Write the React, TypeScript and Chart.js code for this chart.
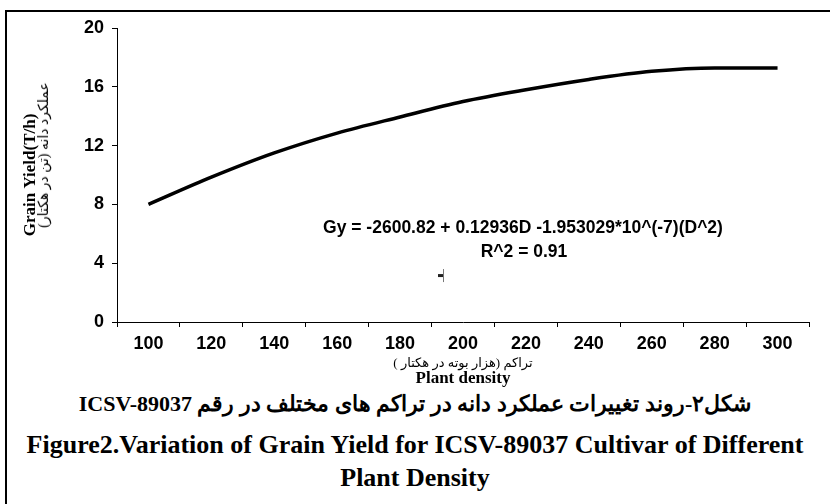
import React, { useEffect, useRef } from "react";
import { Chart, registerables } from "chart.js";

Chart.register(...registerables);

const densities = ["100", "120", "140", "160", "180", "200", "220", "240", "260", "280", "300"];
const grainYield = [8.0, 9.85, 11.5, 12.85, 13.95, 15.0, 15.8, 16.5, 17.05, 17.28, 17.28];
const strayX = [193];
const strayY = [3.16];
const yTicks = { min: 0, max: 20, step: 4 };

const yTitle = "Grain Yield(T/h)";
const yTitleFa = "عملکرد دانه (تن در هکتار)";
const xTitle = "Plant density";
const xTitleFa = "تراکم (هزار بوته در هکتار )";
const equation = "Gy = -2600.82 + 0.12936D -1.953029*10^(-7)(D^2)";
const rSquared = "R^2 = 0.91";
const captionFa = "شکل۲-روند تغییرات عملکرد دانه در تراکم های مختلف در رقم ICSV-89037";
const captionEn1 = "Figure2.Variation of Grain Yield for ICSV-89037 Cultivar of Different";
const captionEn2 = "Plant Density";

function makeMarker(): HTMLCanvasElement {
  const c = document.createElement("canvas");
  c.width = 12;
  c.height = 15;
  const g = c.getContext("2d")!;
  g.strokeStyle = "#777";
  g.lineWidth = 1;
  g.beginPath();
  g.moveTo(8.5, 1);
  g.lineTo(8.5, 14);
  g.stroke();
  g.strokeStyle = "#222";
  g.lineWidth = 3;
  g.beginPath();
  g.moveTo(3, 7.5);
  g.lineTo(8, 7.5);
  g.stroke();
  return c;
}

export default function App() {
  const ref = useRef<HTMLCanvasElement>(null);

  useEffect(() => {
    document.body.style.margin = "0";
    const ctx = ref.current!.getContext("2d")!;
    const chart = new Chart(ctx, {
      type: "line",
      data: {
        labels: densities,
        datasets: [
          {
            data: grainYield,
            borderColor: "#000",
            borderWidth: 3.5,
            pointRadius: 0,
            cubicInterpolationMode: "monotone",
            fill: false,
          },
          {
            type: "scatter",
            xAxisID: "x2",
            data: strayX.map((x, i) => ({ x, y: strayY[i] })),
            pointStyle: makeMarker(),
            pointRadius: 6,
            showLine: false,
          } as any,
        ],
      },
      options: {
        animation: false,
        responsive: false,
        maintainAspectRatio: false,
        layout: { padding: { top: 28, right: 21, left: 0, bottom: 0 } },
        plugins: { legend: { display: false }, tooltip: { enabled: false } },
        scales: {
          x: {
            type: "category",
            offset: true,
            afterFit: (s: any) => {
              s.height = 68;
            },
            grid: {
              display: true,
              drawOnChartArea: false,
              offset: true,
              tickLength: 5,
              color: "#000",
            },
            border: { color: "#000", width: 1 },
            ticks: {
              color: "#000",
              padding: 6,
              maxRotation: 0,
              font: { family: "'Liberation Sans', Arial", size: 18, weight: "bold" },
            },
            title: {
              display: true,
              text: xTitle,
              color: "#000",
              padding: { top: 0, bottom: 1 },
              font: { family: "'Liberation Serif', 'Times New Roman'", size: 17, weight: "bold" },
            },
          },
          x2: {
            type: "linear",
            display: false,
            min: 90,
            max: 310,
          },
          y: {
            min: yTicks.min,
            max: yTicks.max,
            afterFit: (s: any) => {
              s.width = 117;
            },
            grid: { display: true, drawOnChartArea: false, tickLength: 5, color: "#000" },
            border: { color: "#000", width: 1 },
            ticks: {
              stepSize: yTicks.step,
              color: "#000",
              padding: 8,
              font: { family: "'Liberation Sans', Arial", size: 18, weight: "bold" },
            },
            title: {
              display: true,
              text: yTitle,
              color: "#000",
              padding: { top: 20, bottom: 0 },
              font: { family: "'Liberation Serif', 'Times New Roman'", size: 17, weight: "bold" },
            },
          },
        },
      },
    });
    return () => chart.destroy();
  }, []);

  const abs: React.CSSProperties = { position: "absolute", whiteSpace: "nowrap", color: "#000" };

  return (
    <div style={{ position: "fixed", left: 0, top: 0, width: 830, height: 504, background: "#fff", overflow: "hidden" }}>
      <div
        style={{
          position: "absolute",
          left: 5,
          top: 10,
          width: 840,
          height: 520,
          borderLeft: "2px solid #000",
          borderTop: "2px solid #000",
        }}
      />
      <canvas ref={ref} width={830} height={390} style={{ position: "absolute", left: 0, top: 0 }} />
      <div
        style={{
          ...abs,
          left: 44,
          top: 155,
          transform: "translate(-50%, -50%) rotate(-90deg)",
          fontFamily: "'Liberation Serif', 'DejaVu Sans', serif",
          fontSize: 14,
          lineHeight: "16px",
        }}
        dir="rtl"
      >
        {yTitleFa}
      </div>
      <div
        style={{
          ...abs,
          left: 463,
          top: 362,
          transform: "translate(-50%, -50%)",
          fontFamily: "'Liberation Serif', 'DejaVu Sans', serif",
          fontSize: 13,
          lineHeight: "15px",
        }}
        dir="rtl"
      >
        {xTitleFa}
      </div>
      <div
        style={{
          ...abs,
          left: 523,
          top: 227,
          transform: "translate(-50%, -50%)",
          fontFamily: "'Liberation Sans', Arial",
          fontWeight: "bold",
          fontSize: 17.5,
          lineHeight: "20px",
        }}
      >
        {equation}
      </div>
      <div
        style={{
          ...abs,
          left: 524,
          top: 251,
          transform: "translate(-50%, -50%)",
          fontFamily: "'Liberation Sans', Arial",
          fontWeight: "bold",
          fontSize: 17.5,
          lineHeight: "20px",
        }}
      >
        {rSquared}
      </div>
      <div
        style={{
          ...abs,
          left: 415,
          top: 404,
          transform: "translate(-50%, -50%)",
          fontFamily: "'Liberation Serif', 'DejaVu Serif', serif",
          fontWeight: "bold",
          fontSize: 22,
          lineHeight: "26px",
        }}
        dir="rtl"
      >
        {captionFa}
      </div>
      <div
        style={{
          ...abs,
          left: 415,
          top: 445,
          transform: "translate(-50%, -50%)",
          fontFamily: "'Liberation Serif', 'Times New Roman', serif",
          fontWeight: "bold",
          fontSize: 26,
          lineHeight: "30px",
        }}
      >
        {captionEn1}
      </div>
      <div
        style={{
          ...abs,
          left: 415,
          top: 478,
          transform: "translate(-50%, -50%)",
          fontFamily: "'Liberation Serif', 'Times New Roman', serif",
          fontWeight: "bold",
          fontSize: 26,
          lineHeight: "30px",
        }}
      >
        {captionEn2}
      </div>
    </div>
  );
}
